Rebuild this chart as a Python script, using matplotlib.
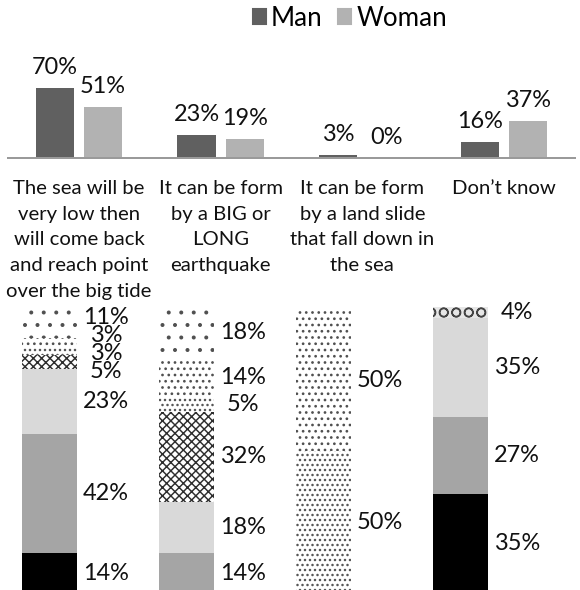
import matplotlib
matplotlib.use("Agg")
import matplotlib.pyplot as plt
from matplotlib.patches import Patch
import numpy as np

# ---- data -------------------------------------------------------------
categories = [
    "The sea will be\nvery low then\nwill come back\nand reach point\nover the big tide",
    "It can be form\nby a BIG or\nLONG\nearthquake",
    "It can be form\nby a land slide\nthat fall down in\nthe sea",
    "Don\u2019t know",
]
man = [70, 23, 3, 16]
woman = [51, 19, 0, 37]

# breakdown of each answer, listed from the bottom of the stack upwards
solid_black = [14, 0, 0, 35]
mid_gray = [42, 14, 0, 27]
light_gray = [23, 18, 0, 35]
cross_hatch = [5, 32, 0, 0]
ring_hatch = [0, 0, 0, 4]
dense_dots = [3, 5, 50, 0]
medium_dots = [3, 14, 50, 0]
sparse_dots = [11, 18, 0, 0]

# ---- layout -----------------------------------------------------------
DPI = 150
W, H = 580, 590
FONT = ["Lato", "DejaVu Sans"]
plt.rcParams["font.family"] = FONT
plt.rcParams["hatch.linewidth"] = 0.7


def px(v):
    """pixel size -> points"""
    return v * 72.0 / DPI


LABEL_PX = 23.5

fig = plt.figure(figsize=(W / DPI, H / DPI), dpi=DPI)
fig.patch.set_facecolor("white")

# top grouped chart: baseline at y=158 px, 1 px per percent
top_left, top_right, base_y = 8, 575, 158
ax = fig.add_axes([top_left / W, (H - base_y) / H,
                   (top_right - top_left) / W, 100 / H])
x = np.arange(len(categories))
bw = 0.27
off = 0.17
b1 = ax.bar(x - off, man, bw, color="#606060", label="Man")
b2 = ax.bar(x + off, woman, bw, color="#b2b2b2", label="Woman")
for bars in (b1, b2):
    ax.bar_label(bars, labels=[f"{v}%" for v in bars.datavalues],
                 padding=5, fontsize=px(LABEL_PX), color="#111111")
ax.set_xlim(-0.5, len(categories) - 0.5)
ax.set_ylim(0, 100)
for s in ("top", "left", "right"):
    ax.spines[s].set_visible(False)
ax.spines["bottom"].set_color("#9a9a9a")
ax.spines["bottom"].set_linewidth(px(2))
ax.set_xticks([])
ax.set_yticks([])
ax.patch.set_alpha(0)

# category captions under the baseline
cap_tr = matplotlib.transforms.blended_transform_factory(ax.transData, fig.transFigure)
for i, c in enumerate(categories):
    ax.text(i, (H - 180) / H, c, transform=cap_tr, ha="center", va="top",
            fontsize=px(20.3), linespacing=1.62, color="#111111")

fig.legend(handles=[Patch(color="#606060"), Patch(color="#b2b2b2")],
           labels=["Man", "Woman"], loc="center",
           bbox_to_anchor=(350 / W, 1 - 18 / H), ncol=2, frameon=False,
           fontsize=px(26), handlelength=0.5, handleheight=0.5,
           handletextpad=0.2, columnspacing=0.6, borderaxespad=0)

# bottom stacked chart: top of stacks at y=307 px, 2.83 px per percent
unit = 137.0
first_center = 49.5
top_stack, ppp = 307, 2.83
ymax = 101
bot_ax = fig.add_axes([0, (H - (top_stack + ymax * ppp)) / H, 1, ymax * ppp / H])
bot_ax.set_xlim(-first_center / unit, -first_center / unit + W / unit)
bot_ax.set_ylim(0, ymax)
bot_ax.axis("off")

series = [
    (solid_black, dict(color="#000000")),
    (mid_gray, dict(color="#a5a5a5")),
    (light_gray, dict(color="#d9d9d9")),
    (cross_hatch, dict(facecolor="white", edgecolor="#2e2e2e", hatch="xxxxxx")),
    (ring_hatch, dict(facecolor="#e6e6e6", edgecolor="#444444", hatch="OO")),
    (dense_dots, dict(facecolor="white", edgecolor="#505050", hatch=".....")),
    (medium_dots, dict(facecolor="white", edgecolor="#505050", hatch="....")),
    (sparse_dots, dict(facecolor="white", edgecolor="#505050", hatch="..")),
]

sbw = 0.40
xs = np.arange(len(categories))
bottoms = np.zeros(len(categories))
centers = [[] for _ in categories]
for vals, style in series:
    vals = np.asarray(vals, dtype=float)
    bot_ax.bar(xs, vals, sbw, bottom=bottoms, linewidth=0, **style)
    for i, v in enumerate(vals):
        if v > 0:
            centers[i].append((bottoms[i] + v / 2, v))
    bottoms += vals


def spread(ys, gap):
    """Push label positions (given top to bottom) apart by at least gap."""
    groups = [[y] for y in ys]

    def place(g):
        m = np.mean(g)
        n = len(g)
        return [m + gap * ((n - 1) / 2 - k) for k in range(n)]

    while True:
        pos = [place(g) for g in groups]
        for k in range(len(groups) - 1):
            if pos[k][-1] - pos[k + 1][0] < gap - 1e-9:
                groups[k] = groups[k] + groups[k + 1]
                del groups[k + 1]
                break
        else:
            return [p for g in groups for p in place(g)]


for i, cs in enumerate(centers):
    cs = sorted(cs, key=lambda t: -t[0])
    ys = spread([c for c, _ in cs], 6.3)
    for (c, v), y in zip(cs, ys):
        bot_ax.text(i + sbw / 2 + 29 / unit, y, f"{v:g}%", ha="center",
                    va="center", fontsize=px(LABEL_PX), color="#111111")

fig.savefig("out.png", dpi=DPI, facecolor="white")
